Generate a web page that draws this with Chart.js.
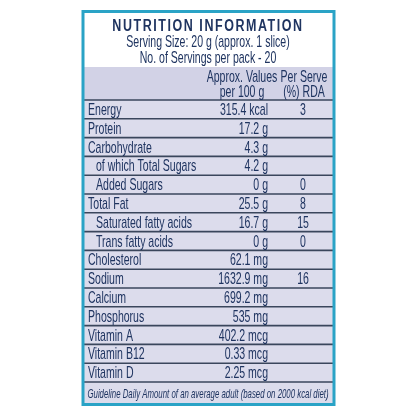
<!DOCTYPE html>
<html><head><meta charset="utf-8">
<script src="https://cdn.jsdelivr.net/npm/chart.js@4/dist/chart.umd.min.js"></script>
<style>html,body{margin:0;padding:0;background:#fff}#c{display:block}</style>
</head><body>
<div style="width:416px;height:416px"><canvas id="c" width="416" height="416"></canvas></div>
<script>
const nutrients=["Energy","Protein","Carbohydrate","of which Total Sugars","Added Sugars","Total Fat","Saturated fatty acids","Trans fatty acids","Cholesterol","Sodium","Calcium","Phosphorus","Vitamin A","Vitamin B12","Vitamin D"];
const indented=[false,false,false,true,true,false,true,true,false,false,false,false,false,false,false];
const amounts=[315.4,17.2,4.3,4.2,0,25.5,16.7,0,62.1,1632.9,699.2,535,402.2,0.33,2.25];
const units=["kcal","g","g","g","g","g","g","g","mg","mg","mg","mg","mcg","mcg","mcg"];
const rda=["3","","","","0","8","15","0","","16","","","","",""];
const titleLines=["NUTRITION INFORMATION","Serving Size: 20 g (approx. 1 slice)","No. of Servings per pack - 20"];
const colHeads=[["Approx. Values","per 100 g"],["Per Serve","(%) RDA"]];
const footnote="Guideline Daily Amount of an average adult (based on 2000 kcal diet)";

const F="'Liberation Sans',Arial,sans-serif";
const navy="#1f3460";
function T(c,s,x,y,align,font,sx){
  c.save();c.font=font;c.textAlign=align;c.translate(x,y);c.scale(sx,1);c.fillText(s,0,0);c.restore();
}
const plugin={id:'table',
beforeDraw(ch){
  const c=ch.ctx,y=ch.scales.y;
  const L=84,R=333;
  c.save();
  c.fillStyle="#fff";c.fillRect(0,0,416,416);
  c.fillStyle="#dcdcec";c.fillRect(L,67,R-L,404-67);
  c.fillStyle="#d2d2e6";c.fillRect(L,67,R-L,33);
  const h=(y.getPixelForValue(1)-y.getPixelForValue(0));
  c.strokeStyle="#3a465c";c.lineWidth=1.6;
  for(let i=0;i<=nutrients.length;i++){
    const yy=y.getPixelForValue(i)-h/2;
    c.beginPath();c.moveTo(L,yy);c.lineTo(R,yy);c.stroke();
  }
  c.strokeStyle="#2aa3c6";c.lineWidth=3;
  c.strokeRect(L-1,11.5,R-L+2,393);
  c.restore();
},
afterDraw(ch){
  const c=ch.ctx,y=ch.scales.y;
  c.save();c.fillStyle=navy;c.textBaseline="middle";
  const nf="17px "+F, sx=0.62;
  if(c.letterSpacing!==undefined)c.letterSpacing="2px";
  T(c,titleLines[0],208,27,"center","bold 16px "+F,0.78);
  if(c.letterSpacing!==undefined)c.letterSpacing="0px";
  T(c,titleLines[1],208,42,"center",nf,sx);
  T(c,titleLines[2],208,58,"center",nf,sx);
  T(c,colHeads[0][0],242,77,"center",nf,sx);T(c,colHeads[0][1],242,92,"center",nf,sx);
  T(c,colHeads[1][0],304,77,"center",nf,sx);T(c,colHeads[1][1],304,92,"center",nf,sx);
  nutrients.forEach((n,i)=>{
    const yy=y.getPixelForValue(i)+1;
    T(c,n,indented[i]?96:88,yy,"left",nf,sx);
    T(c,amounts[i]+" "+units[i],268,yy,"right",nf,sx);
    T(c,rda[i],303,yy,"center",nf,sx);
  });
  T(c,footnote,208,394,"center","italic 13.5px "+F,0.58);
  c.restore();
}};
new Chart(document.getElementById('c'),{
  type:'bar',
  data:{labels:nutrients,datasets:[{data:amounts,backgroundColor:'rgba(0,0,0,0)'}]},
  options:{indexAxis:'y',responsive:false,animation:false,
    layout:{padding:{top:100,bottom:34,left:84,right:83}},
    plugins:{legend:{display:false},tooltip:{enabled:false}},
    scales:{x:{display:false},y:{display:false}}},
  plugins:[plugin]
});
</script></body></html>
